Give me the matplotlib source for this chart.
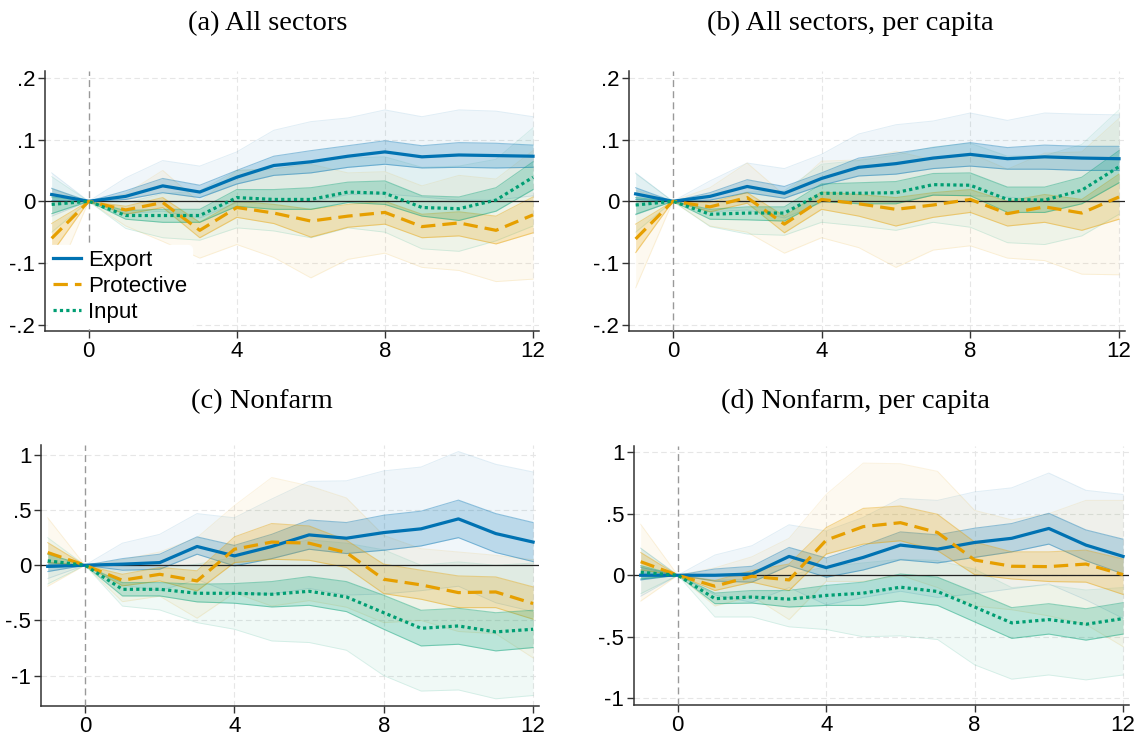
import numpy as np
import matplotlib
matplotlib.use("Agg")
import matplotlib.pyplot as plt
from matplotlib.ticker import FuncFormatter

# horizon
horizon = list(range(-1, 13))

# ---- (a) All sectors ----
a_exp = [0.011, 0, 0.008, 0.025, 0.015, 0.039, 0.058, 0.064, 0.073, 0.080, 0.072, 0.075, 0.074, 0.073]
a_exp_in_lo = [0.001, 0, 0.003, 0.014, 0.006, 0.028, 0.042, 0.046, 0.055, 0.060, 0.054, 0.055, 0.054, 0.055]
a_exp_in_hi = [0.021, 0, 0.017, 0.037, 0.026, 0.050, 0.073, 0.082, 0.090, 0.098, 0.090, 0.095, 0.094, 0.091]
a_exp_out_lo = [-0.024, 0, -0.020, -0.016, -0.027, -0.002, 0.001, -0.001, 0.011, 0.012, 0.007, 0.002, 0.002, 0.009]
a_exp_out_hi = [0.046, 0, 0.038, 0.066, 0.057, 0.080, 0.115, 0.129, 0.135, 0.148, 0.137, 0.148, 0.146, 0.137]

a_pro = [-0.060, 0, -0.014, -0.002, -0.047, -0.010, -0.019, -0.032, -0.024, -0.018, -0.041, -0.035, -0.047, -0.022]
a_pro_in_lo = [-0.084, 0, -0.021, -0.010, -0.059, -0.026, -0.036, -0.058, -0.042, -0.037, -0.059, -0.056, -0.069, -0.051]
a_pro_in_hi = [-0.036, 0, -0.008, 0.006, -0.034, 0.000, -0.005, -0.013, -0.005, 0.000, -0.021, -0.017, -0.024, 0.007]
a_pro_out_lo = [-0.140, 0, -0.040, -0.065, -0.092, -0.070, -0.091, -0.124, -0.094, -0.084, -0.107, -0.112, -0.130, -0.126]
a_pro_out_hi = [0.020, 0, 0.012, 0.050, -0.002, 0.050, 0.053, 0.060, 0.046, 0.048, 0.025, 0.042, 0.036, 0.082]

a_inp = [-0.005, 0, -0.023, -0.023, -0.023, 0.006, 0.003, 0.003, 0.015, 0.013, -0.010, -0.012, 0.002, 0.039]
a_inp_in_lo = [-0.020, 0, -0.029, -0.034, -0.034, -0.008, -0.013, -0.013, -0.002, -0.005, -0.024, -0.031, -0.016, 0.019]
a_inp_in_hi = [0.007, 0, -0.015, -0.013, -0.013, 0.019, 0.019, 0.022, 0.031, 0.033, 0.009, 0.007, 0.022, 0.064]
a_inp_out_lo = [-0.050, 0, -0.044, -0.059, -0.063, -0.043, -0.048, -0.059, -0.043, -0.050, -0.077, -0.081, -0.064, -0.040]
a_inp_out_hi = [0.040, 0, -0.002, 0.012, 0.017, 0.050, 0.052, 0.062, 0.070, 0.072, 0.055, 0.057, 0.068, 0.119]

# ---- (b) All sectors, per capita ----
b_exp = [0.012, 0, 0.008, 0.024, 0.013, 0.037, 0.055, 0.061, 0.070, 0.076, 0.069, 0.072, 0.070, 0.069]
b_exp_in_lo = [0.003, 0, 0.002, 0.014, 0.005, 0.026, 0.041, 0.044, 0.053, 0.057, 0.052, 0.052, 0.050, 0.050]
b_exp_in_hi = [0.022, 0, 0.014, 0.035, 0.024, 0.046, 0.070, 0.078, 0.087, 0.095, 0.087, 0.091, 0.089, 0.089]
b_exp_out_lo = [-0.022, 0, -0.017, -0.014, -0.027, -0.002, 0.001, -0.002, 0.010, 0.009, 0.007, 0.001, -0.001, -0.002]
b_exp_out_hi = [0.046, 0, 0.033, 0.062, 0.053, 0.076, 0.109, 0.124, 0.130, 0.143, 0.131, 0.143, 0.141, 0.140]

b_pro = [-0.061, 0, -0.009, 0.006, -0.037, 0.003, -0.004, -0.013, -0.006, 0.003, -0.020, -0.009, -0.019, 0.007]
b_pro_in_lo = [-0.083, 0, -0.017, -0.003, -0.051, -0.013, -0.024, -0.040, -0.026, -0.018, -0.040, -0.034, -0.047, -0.029]
b_pro_in_hi = [-0.037, 0, -0.002, 0.014, -0.024, 0.015, 0.011, 0.006, 0.014, 0.019, 0.000, 0.011, 0.003, 0.044]
b_pro_out_lo = [-0.140, 0, -0.040, -0.050, -0.084, -0.059, -0.075, -0.107, -0.079, -0.072, -0.092, -0.096, -0.118, -0.119]
b_pro_out_hi = [0.018, 0, 0.022, 0.062, 0.010, 0.065, 0.067, 0.081, 0.067, 0.078, 0.052, 0.078, 0.080, 0.134]

b_inp = [-0.006, 0, -0.021, -0.019, -0.019, 0.013, 0.013, 0.014, 0.027, 0.026, 0.003, 0.002, 0.018, 0.056]
b_inp_in_lo = [-0.021, 0, -0.029, -0.030, -0.032, 0.000, -0.004, -0.004, 0.010, 0.009, -0.018, -0.018, -0.004, 0.030]
b_inp_in_hi = [0.006, 0, -0.013, -0.009, -0.009, 0.028, 0.030, 0.032, 0.045, 0.046, 0.023, 0.023, 0.039, 0.082]
b_inp_out_lo = [-0.050, 0, -0.041, -0.053, -0.055, -0.034, -0.040, -0.047, -0.034, -0.042, -0.067, -0.070, -0.056, -0.021]
b_inp_out_hi = [0.045, 0, 0.000, 0.015, 0.017, 0.060, 0.066, 0.075, 0.088, 0.094, 0.073, 0.074, 0.092, 0.148]

# ---- (c) Nonfarm ----
c_exp = [-0.010, 0, 0.010, 0.024, 0.170, 0.085, 0.170, 0.275, 0.245, 0.296, 0.330, 0.420, 0.287, 0.210]
c_exp_in_lo = [-0.057, 0, -0.045, -0.036, 0.100, -0.006, 0.060, 0.145, 0.106, 0.136, 0.175, 0.250, 0.115, 0.033]
c_exp_in_hi = [0.024, 0, 0.060, 0.100, 0.257, 0.180, 0.280, 0.410, 0.387, 0.453, 0.490, 0.590, 0.468, 0.387]
c_exp_out_lo = [-0.120, 0, -0.180, -0.230, -0.130, -0.260, -0.260, -0.210, -0.270, -0.260, -0.230, -0.190, -0.340, -0.420]
c_exp_out_hi = [0.100, 0, 0.200, 0.280, 0.468, 0.430, 0.600, 0.760, 0.765, 0.855, 0.890, 1.030, 0.915, 0.845]

c_pro = [0.115, 0, -0.136, -0.082, -0.142, 0.145, 0.210, 0.200, 0.115, -0.127, -0.178, -0.248, -0.242, -0.347]
c_pro_in_lo = [0.024, 0, -0.187, -0.142, -0.233, 0.024, 0.054, 0.045, -0.020, -0.257, -0.308, -0.384, -0.384, -0.489]
c_pro_in_hi = [0.205, 0, -0.082, -0.020, -0.050, 0.257, 0.378, 0.356, 0.227, 0.010, -0.045, -0.097, -0.106, -0.196]
c_pro_out_lo = [-0.190, 0, -0.330, -0.280, -0.480, -0.250, -0.370, -0.320, -0.380, -0.520, -0.500, -0.600, -0.620, -0.840]
c_pro_out_hi = [0.430, 0, 0.050, 0.120, 0.250, 0.540, 0.795, 0.720, 0.610, 0.270, 0.150, 0.120, 0.090, 0.050]

c_inp = [0.040, 0, -0.218, -0.218, -0.254, -0.254, -0.263, -0.236, -0.287, -0.430, -0.571, -0.550, -0.604, -0.580]
c_inp_in_lo = [-0.020, 0, -0.278, -0.278, -0.332, -0.344, -0.378, -0.363, -0.420, -0.580, -0.731, -0.716, -0.776, -0.746]
c_inp_in_hi = [0.100, 0, -0.157, -0.157, -0.172, -0.166, -0.148, -0.103, -0.148, -0.272, -0.408, -0.390, -0.430, -0.408]
c_inp_out_lo = [-0.170, 0, -0.370, -0.405, -0.520, -0.580, -0.686, -0.700, -0.770, -1.000, -1.140, -1.130, -1.210, -1.180]
c_inp_out_hi = [0.250, 0, -0.060, -0.030, 0.010, 0.070, 0.160, 0.230, 0.200, 0.140, 0.000, 0.030, 0.000, 0.020]

# ---- (d) Nonfarm, per capita ----
d_exp = [0.000, 0, 0.000, 0.010, 0.153, 0.062, 0.145, 0.245, 0.212, 0.266, 0.300, 0.380, 0.245, 0.153]
d_exp_in_lo = [-0.038, 0, -0.048, -0.056, 0.078, -0.016, 0.043, 0.126, 0.100, 0.145, 0.190, 0.253, 0.118, 0.011]
d_exp_in_hi = [0.065, 0, 0.051, 0.073, 0.226, 0.140, 0.240, 0.352, 0.328, 0.382, 0.420, 0.503, 0.368, 0.293]
d_exp_out_lo = [-0.170, 0, -0.160, -0.220, -0.100, -0.240, -0.180, -0.130, -0.180, -0.150, -0.110, -0.070, -0.200, -0.350]
d_exp_out_hi = [0.220, 0, 0.164, 0.240, 0.410, 0.360, 0.470, 0.624, 0.608, 0.677, 0.710, 0.830, 0.690, 0.656]

d_pro = [0.110, 0, -0.089, -0.008, -0.038, 0.285, 0.395, 0.427, 0.347, 0.124, 0.073, 0.070, 0.091, 0.005]
d_pro_in_lo = [0.043, 0, -0.124, -0.056, -0.124, 0.172, 0.253, 0.280, 0.200, 0.005, -0.030, -0.051, -0.056, -0.156]
d_pro_in_hi = [0.185, 0, -0.043, 0.038, 0.091, 0.387, 0.543, 0.562, 0.495, 0.270, 0.190, 0.190, 0.204, 0.132]
d_pro_out_lo = [-0.210, 0, -0.250, -0.170, -0.360, -0.050, -0.050, 0.000, -0.100, -0.250, -0.280, -0.330, -0.400, -0.580]
d_pro_out_hi = [0.414, 0, 0.060, 0.150, 0.300, 0.656, 0.911, 0.906, 0.844, 0.527, 0.450, 0.500, 0.608, 0.608]

d_inp = [0.024, 0, -0.190, -0.177, -0.194, -0.164, -0.145, -0.097, -0.132, -0.258, -0.387, -0.360, -0.398, -0.352]
d_inp_in_lo = [-0.030, 0, -0.231, -0.226, -0.258, -0.245, -0.245, -0.210, -0.245, -0.379, -0.513, -0.478, -0.527, -0.478]
d_inp_in_hi = [0.078, 0, -0.145, -0.124, -0.124, -0.083, -0.056, 0.010, -0.016, -0.137, -0.263, -0.231, -0.272, -0.223]
d_inp_out_lo = [-0.150, 0, -0.339, -0.339, -0.419, -0.441, -0.500, -0.492, -0.522, -0.728, -0.844, -0.810, -0.850, -0.810]
d_inp_out_hi = [0.220, 0, -0.040, -0.030, 0.000, 0.070, 0.100, 0.130, 0.120, 0.050, -0.100, -0.080, -0.120, -0.100]

titles = ["(a) All sectors", "(b) All sectors, per capita", "(c) Nonfarm", "(d) Nonfarm, per capita"]
series_names = ["Export", "Protective", "Input"]
xticks = [0, 4, 8, 12]
yticks_top = [-0.2, -0.1, 0, 0.1, 0.2]
yticks_bot = [-1, -0.5, 0, 0.5, 1]

colors = ["#0072B2", "#E69F00", "#009E73"]
styles = ["-", (0, (4.5, 2.2)), (0, (1, 1))]


def stata_num(v, pos=None):
    if abs(v) < 1e-9:
        return "0"
    s = f"{v:g}"
    return s.replace("0.", ".")


panels = [
    [(a_exp, a_exp_in_lo, a_exp_in_hi, a_exp_out_lo, a_exp_out_hi),
     (a_pro, a_pro_in_lo, a_pro_in_hi, a_pro_out_lo, a_pro_out_hi),
     (a_inp, a_inp_in_lo, a_inp_in_hi, a_inp_out_lo, a_inp_out_hi)],
    [(b_exp, b_exp_in_lo, b_exp_in_hi, b_exp_out_lo, b_exp_out_hi),
     (b_pro, b_pro_in_lo, b_pro_in_hi, b_pro_out_lo, b_pro_out_hi),
     (b_inp, b_inp_in_lo, b_inp_in_hi, b_inp_out_lo, b_inp_out_hi)],
    [(c_exp, c_exp_in_lo, c_exp_in_hi, c_exp_out_lo, c_exp_out_hi),
     (c_pro, c_pro_in_lo, c_pro_in_hi, c_pro_out_lo, c_pro_out_hi),
     (c_inp, c_inp_in_lo, c_inp_in_hi, c_inp_out_lo, c_inp_out_hi)],
    [(d_exp, d_exp_in_lo, d_exp_in_hi, d_exp_out_lo, d_exp_out_hi),
     (d_pro, d_pro_in_lo, d_pro_in_hi, d_pro_out_lo, d_pro_out_hi),
     (d_inp, d_inp_in_lo, d_inp_in_hi, d_inp_out_lo, d_inp_out_hi)],
]

# axes boxes in figure fraction [left, bottom, width, height]
boxes = [
    [0.0393, 0.5515, 0.4314, 0.3523],
    [0.5493, 0.5515, 0.4332, 0.3523],
    [0.0358, 0.0434, 0.4350, 0.3537],
    [0.5537, 0.0447, 0.4323, 0.3510],
]
ylims = [(-0.21, 0.211), (-0.21, 0.211), (-1.275, 1.09), (-1.054, 1.05)]
title_pos = [(0.234, 0.968), (0.743, 0.968), (0.229, 0.456), (0.747, 0.456)]

plt.rcParams["font.family"] = ["Liberation Sans", "DejaVu Sans"]

fig = plt.figure(figsize=(11.45, 7.38), dpi=100)
x = np.array(horizon)

for k in range(4):
    ax = fig.add_axes(boxes[k])
    ax.set_xlim(-1.18, 12.16)
    ax.set_ylim(*ylims[k])
    yt = yticks_top if k < 2 else yticks_bot

    for v in yt:
        ax.axhline(v, color="#e6e6e6", lw=0.8, ls=(0, (5, 3)), zorder=0)
    for v in xticks[1:]:
        ax.axvline(v, color="#e6e6e6", lw=0.8, ls=(0, (5, 3)), zorder=0)

    for j, (pt, ilo, ihi, olo, ohi) in enumerate(panels[k]):
        c = colors[j]
        ax.fill_between(x, olo, ohi, color=c, alpha=0.06, lw=0, zorder=1)
        ax.plot(x, olo, color=c, alpha=0.12, lw=0.7, zorder=1)
        ax.plot(x, ohi, color=c, alpha=0.12, lw=0.7, zorder=1)
    for j, (pt, ilo, ihi, olo, ohi) in enumerate(panels[k]):
        c = colors[j]
        ax.fill_between(x, ilo, ihi, color=c, alpha=0.22, lw=0, zorder=2)
        ax.plot(x, ilo, color=c, alpha=0.4, lw=0.8, zorder=2)
        ax.plot(x, ihi, color=c, alpha=0.4, lw=0.8, zorder=2)

    ax.axhline(0, color="#222222", lw=0.9, zorder=3)
    ax.axvline(0, color="#999999", lw=1.0, ls=(0, (5, 3)), zorder=3)

    for j, (pt, ilo, ihi, olo, ohi) in enumerate(panels[k]):
        ax.plot(x, pt, color=colors[j], ls=styles[j], lw=2.3,
                label=series_names[j], zorder=4)

    ax.set_xticks(xticks)
    ax.set_yticks(yt)
    ax.yaxis.set_major_formatter(FuncFormatter(stata_num))
    ax.tick_params(labelsize=16, length=5, width=1, color="#333333", pad=2)
    for s in ["top", "right"]:
        ax.spines[s].set_visible(False)
    for s in ["left", "bottom"]:
        ax.spines[s].set_color("#333333")
        ax.spines[s].set_linewidth(1.1)

    if k == 0:
        leg = ax.legend(loc="lower left", fontsize=16, frameon=True,
                        handlelength=1.25, handletextpad=0.35, labelspacing=0.24,
                        borderaxespad=0.15, borderpad=0.2)
        leg.get_frame().set_facecolor("white")
        leg.get_frame().set_edgecolor("white")
        leg.get_frame().set_alpha(1.0)
        leg.set_zorder(5)

    fig.text(title_pos[k][0], title_pos[k][1], titles[k], ha="center", va="center",
             fontsize=20.5, family="Liberation Serif")

fig.savefig("out.png", dpi=100)
